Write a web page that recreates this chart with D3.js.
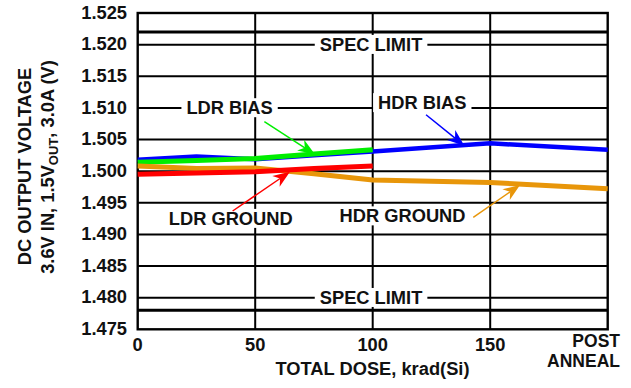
<!DOCTYPE html>
<html>
<head>
<meta charset="utf-8">
<script src="https://cdn.jsdelivr.net/npm/d3@7/dist/d3.min.js"></script>
<style>
  html, body { margin: 0; padding: 0; background: #fff; }
  svg { display: block; }
  text { font-family: "Liberation Sans", Arial, Helvetica, sans-serif; font-weight: bold; fill: #111; }
</style>
</head>
<body>
<svg id="chart" width="631" height="388"></svg>
<script>
// Total dose points (krad(Si)); 200 stands for the post-anneal reading
const doses = [0, 25, 50, 75, 100, 150, 200];
const ldrDoses = [0, 25, 50, 75, 100];

// Output voltage (V) for each test condition
const hdrBias   = [1.5018, 1.5023, 1.5019, 1.5025, 1.5031, 1.5044, 1.5034];
const hdrGround = [1.5008, 1.5004, 1.5005, 1.4996, 1.4986, 1.4982, 1.4972];
const ldrBias   = [1.5014, 1.5017, 1.5020, 1.5027, 1.5034];
const ldrGround = [1.4995, 1.4997, 1.4999, 1.5004, 1.5008];

// Specification limits (V)
const specLimits = [1.522, 1.478];

// Axis ticks
const xTicks = [0, 50, 100, 150];
const xTickLabels = ["0", "50", "100", "150"];
const postAnnealLabel = ["POST", "ANNEAL"];
const yTicks = [1.475, 1.480, 1.485, 1.490, 1.495, 1.500, 1.505, 1.510, 1.515, 1.520, 1.525];

const svg = d3.select("#chart");
const x = d3.scaleLinear().domain([0, 200]).range([137.7, 607.7]);
const y = d3.scaleLinear().domain([1.475, 1.525]).range([329.3, 13]);

const FONT = 18.3;

// Grid
const grid = svg.append("g");
grid.selectAll("line.h").data(yTicks.slice(1, -1)).join("line")
  .attr("x1", x(0)).attr("x2", x(200))
  .attr("y1", d => y(d)).attr("y2", d => y(d))
  .attr("stroke", "#000").attr("stroke-width", 2);
grid.selectAll("line.v").data([50, 100, 150]).join("line")
  .attr("x1", d => x(d)).attr("x2", d => x(d))
  .attr("y1", y(1.525)).attr("y2", y(1.475))
  .attr("stroke", "#000").attr("stroke-width", 2);

// Spec limit lines
grid.selectAll("line.spec").data(specLimits).join("line")
  .attr("x1", x(0)).attr("x2", x(200))
  .attr("y1", d => y(d)).attr("y2", d => y(d))
  .attr("stroke", "#000").attr("stroke-width", 3);

// Label backdrops and text (drawn over the grid)
const labels = [
  { text: "SPEC LIMIT", dose: 99.3, v: 1.5200 },
  { text: "SPEC LIMIT", dose: 99.3, v: 1.4800 },
  { text: "LDR BIAS",   dose: 39.1, v: 1.5100 },
  { text: "HDR BIAS",   dose: 121.1, v: 1.5108 },
  { text: "LDR GROUND", dose: 39.6, v: 1.4925 },
  { text: "HDR GROUND", dose: 112.7, v: 1.4929 }
];

const lblG = svg.append("g");
labels.forEach(l => {
  const t = lblG.append("text")
    .attr("x", x(l.dose)).attr("y", y(l.v) + 6.3)
    .attr("text-anchor", "middle")
    .attr("font-size", FONT)
    .text(l.text);
  const bb = t.node().getBBox();
  lblG.insert("rect", "text")
    .attr("x", bb.x - 5).attr("y", bb.y + 1)
    .attr("width", bb.width + 10).attr("height", bb.height - 2)
    .attr("fill", "#fff");
});

// Plot frame
svg.append("rect")
  .attr("x", x(0)).attr("y", y(1.525))
  .attr("width", x(200) - x(0)).attr("height", y(1.475) - y(1.525))
  .attr("fill", "none").attr("stroke", "#000").attr("stroke-width", 2.4);

// Series
const line = d3.line().x(d => x(d[0])).y(d => y(d[1]));
const series = [
  { xs: doses,    ys: hdrBias,   color: "#0000ff", w: 4.5 },
  { xs: ldrDoses, ys: ldrBias,   color: "#00ee00", w: 5 },
  { xs: doses,    ys: hdrGround, color: "#e8960a", w: 5 },
  { xs: ldrDoses, ys: ldrGround, color: "#ff0000", w: 5 }
];
series.forEach(s => {
  svg.append("path")
    .datum(s.xs.map((d, i) => [d, s.ys[i]]))
    .attr("d", line)
    .attr("fill", "none")
    .attr("stroke", s.color)
    .attr("stroke-width", s.w)
    .attr("stroke-linejoin", "round");
});

// Pointer arrows from labels to curves (dose, voltage)
const arrows = [
  { from: [53.9, 1.50782],  to: [75.4, 1.50266],  color: "#00ee00" },
  { from: [122.7, 1.50892], to: [139.0, 1.50402], color: "#0000ff" },
  { from: [40.4, 1.49370],  to: [64.8, 1.49991],  color: "#ff0000" },
  { from: [142.8, 1.49270], to: [162.7, 1.49781], color: "#e8960a" }
];
arrows.forEach(a => {
  const x0 = x(a.from[0]), y0 = y(a.from[1]);
  const x1 = x(a.to[0]),   y1 = y(a.to[1]);
  const ang = Math.atan2(y1 - y0, x1 - x0);
  const L = 17, W = 6.5, N = 12;
  const ux = Math.cos(ang), uy = Math.sin(ang);
  const px = -uy, py = ux;
  svg.append("line")
    .attr("x1", x0).attr("y1", y0)
    .attr("x2", x1 - ux * N).attr("y2", y1 - uy * N)
    .attr("stroke", a.color).attr("stroke-width", 1.5);
  const bx = x1 - ux * L, by = y1 - uy * L;
  const nx = x1 - ux * N, ny = y1 - uy * N;
  svg.append("path")
    .attr("d", `M${x1},${y1}L${bx + px * W},${by + py * W}L${nx},${ny}L${bx - px * W},${by - py * W}Z`)
    .attr("fill", a.color);
});

// Y tick labels
svg.append("g").selectAll("text").data(yTicks).join("text")
  .attr("x", 127).attr("y", d => y(d) + 5.8)
  .attr("text-anchor", "end")
  .attr("font-size", FONT)
  .text(d => d3.format(".3f")(d));

// X tick labels
svg.append("g").selectAll("text").data(xTicks).join("text")
  .attr("x", d => x(d)).attr("y", 351)
  .attr("text-anchor", "middle")
  .attr("font-size", FONT)
  .text((d, i) => xTickLabels[i]);

// Two-line label for the post-anneal position
svg.append("g").selectAll("text").data(postAnnealLabel).join("text")
  .attr("x", 620)
  .attr("y", (d, i) => 347.2 + i * 19.6)
  .attr("text-anchor", "end")
  .attr("font-size", 17.5)
  .text(d => d);

// Axis titles
svg.append("text")
  .attr("x", 372.5).attr("y", 374.5)
  .attr("text-anchor", "middle")
  .attr("font-size", FONT)
  .text("TOTAL DOSE, krad(Si)");

svg.append("text")
  .attr("transform", "translate(31,166.5) rotate(-90)")
  .attr("text-anchor", "middle")
  .attr("font-size", FONT)
  .text("DC OUTPUT VOLTAGE");

const yt2 = svg.append("text")
  .attr("transform", "translate(54.3,167) rotate(-90)")
  .attr("text-anchor", "middle")
  .attr("font-size", FONT);
yt2.append("tspan").text("3.6V IN, 1.5V");
yt2.append("tspan").attr("font-size", 13).attr("dy", 3.5).text("OUT");
yt2.append("tspan").attr("dy", -3.5).text(", 3.0A (V)");
</script>
</body>
</html>
